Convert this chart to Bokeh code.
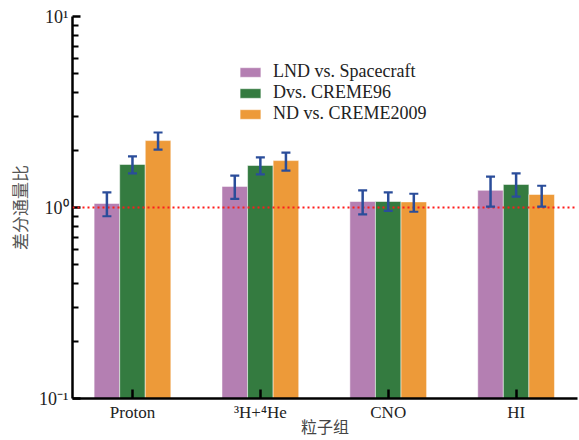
from bokeh.plotting import figure
from bokeh.models import (ColumnDataSource, Range1d, FixedTicker, Whisker, TeeHead,
                          Span, Legend, LegendItem)
from bokeh.transform import dodge
from bokeh.embed import file_html
from bokeh.resources import INLINE

categories = ["Proton", "³H+⁴He", "CNO", "HI"]
series_names = ["LND vs. Spacecraft", "Dvs. CREME96", "ND vs. CREME2009"]
lnd = [1.05, 1.29, 1.075, 1.23]
lnd_lo = [0.90, 1.11, 0.92, 1.01]
lnd_hi = [1.20, 1.47, 1.23, 1.45]
d96 = [1.68, 1.66, 1.075, 1.32]
d96_lo = [1.51, 1.49, 0.96, 1.14]
d96_hi = [1.85, 1.83, 1.20, 1.51]
nd09 = [2.24, 1.76, 1.07, 1.17]
nd09_lo = [2.01, 1.56, 0.95, 1.01]
nd09_hi = [2.47, 1.94, 1.18, 1.30]

colors = ["#b47fb2", "#347b40", "#ed9a39"]
err_color = "#2a4d9a"
serif = "Liberation Serif"
cjk = "Noto Sans CJK SC"

xs = list(range(len(categories)))

p = figure(width=579, height=440, y_axis_type="log",
           x_range=Range1d(-0.469, 3.48), y_range=Range1d(0.1, 10),
           output_backend="svg", toolbar_location=None,
           min_border_left=72, min_border_top=16, min_border_right=2, min_border_bottom=20)

p.xgrid.visible = False
p.ygrid.visible = False
p.outline_line_color = None

offsets = [-0.2, 0.0, 0.2]
vals = [lnd, d96, nd09]
los = [lnd_lo, d96_lo, nd09_lo]
his = [lnd_hi, d96_hi, nd09_hi]

items = []
sources = []
for k in range(3):
    src = ColumnDataSource(dict(x=xs, top=vals[k], lo=los[k], hi=his[k]))
    r = p.vbar(x=dodge("x", offsets[k]), top="top", bottom=0.1, width=0.2, source=src,
               fill_color=colors[k], line_color="white", line_alpha=0.5, line_width=1)
    items.append(LegendItem(label=series_names[k], renderers=[r]))
    sources.append((src, offsets[k]))

span = Span(location=1.0, dimension="width", line_color="#ff1a1a", line_width=2.2,
            line_dash="2 3", level="overlay")
p.add_layout(span)

for src, off in sources:
    w = Whisker(base=dodge("x", off), upper="hi", lower="lo", source=src,
                line_color=err_color, line_width=2.5, level="overlay",
                upper_head=TeeHead(size=9, line_color=err_color, line_width=2.2),
                lower_head=TeeHead(size=9, line_color=err_color, line_width=2.2))
    p.add_layout(w)

legend = Legend(items=items, location=(165, 274), padding=0, margin=0,
                spacing=0, label_height=20, glyph_height=12, glyph_width=26,
                label_standoff=10, border_line_color=None, background_fill_alpha=0,
                label_text_font=serif, label_text_font_size="18px",
                label_text_color="#222222")
p.add_layout(legend)

# y axis
p.yaxis.level = "overlay"
p.yaxis.ticker = FixedTicker(ticks=[0.1, 1, 10],
                             minor_ticks=[0.2, 0.3, 0.4, 0.5, 0.6, 0.7, 0.8, 0.9,
                                          2, 3, 4, 5, 6, 7, 8, 9])
p.yaxis.major_label_overrides = {0.1: "10⁻¹", 1: "10⁰", 10: "10¹"}
p.yaxis.axis_label = "差分通量比"
p.yaxis.axis_label_text_font = cjk
p.yaxis.axis_label_text_font_style = "normal"
p.yaxis.axis_label_text_font_size = "17px"
p.yaxis.axis_label_text_color = "#555555"
p.yaxis.axis_label_standoff = 4
p.yaxis.major_label_text_font = serif
p.yaxis.major_label_text_font_size = "18px"
p.yaxis.major_label_text_color = "#222222"
p.yaxis.major_label_standoff = 4
p.yaxis.axis_line_width = 2.5
p.yaxis.axis_line_color = "black"
p.yaxis.major_tick_in = 8
p.yaxis.major_tick_out = 0
p.yaxis.major_tick_line_width = 2.5
p.yaxis.major_tick_line_color = "black"
p.yaxis.minor_tick_in = 6
p.yaxis.minor_tick_out = 0
p.yaxis.minor_tick_line_width = 2
p.yaxis.minor_tick_line_color = "black"

# x axis
p.xaxis.level = "overlay"
p.xaxis.ticker = FixedTicker(ticks=xs)
p.xaxis.major_label_overrides = {i: c for i, c in enumerate(categories)}
p.xaxis.axis_label = "粒子组"
p.xaxis.axis_label_text_font = cjk
p.xaxis.axis_label_text_font_style = "normal"
p.xaxis.axis_label_text_font_size = "16px"
p.xaxis.axis_label_text_color = "#444444"
p.xaxis.axis_label_standoff = -11
p.xaxis.major_label_text_font = serif
p.xaxis.major_label_text_font_size = "17px"
p.xaxis.major_label_text_color = "#222222"
p.xaxis.major_label_standoff = 4
p.xaxis.axis_line_width = 2.5
p.xaxis.axis_line_color = "black"
p.xaxis.major_tick_in = 9
p.xaxis.major_tick_out = 0
p.xaxis.major_tick_line_width = 2.5
p.xaxis.major_tick_line_color = "black"
p.xaxis.minor_tick_line_color = None

open("out.html", "w").write(file_html(p, INLINE))
